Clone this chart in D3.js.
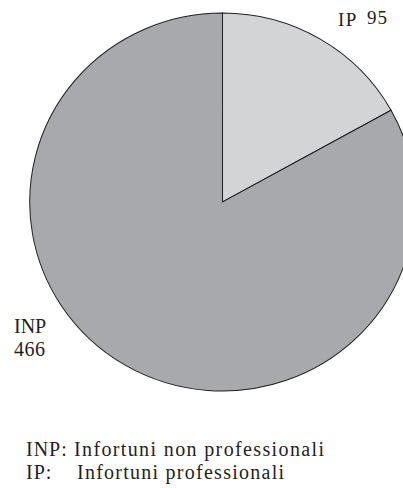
<!DOCTYPE html>
<html>
<head>
<meta charset="utf-8">
<script src="https://cdn.jsdelivr.net/npm/d3@7"></script>
<style>
  body { margin: 0; background: #fff; }
</style>
</head>
<body>
<div id="chart"></div>
<script>
const w = 403;
const h = 488;

const categories = ["IP", "INP"];
const values = [95, 466];
const legendCodes = ["INP:", "IP:"];
const legendNames = ["Infortuni non professionali", "Infortuni professionali"];

const colors = ["#d3d4d6", "#a8a9ac"];
const font = "'Liberation Serif', 'Times New Roman', 'DejaVu Serif', serif";

const cx = 222.5, cy = 202, r = 189;

const svg = d3.select("#chart").append("svg").attr("width", w).attr("height", h);

const pie = d3.pie().sort(null).value(d => d.value);
const arc = d3.arc().innerRadius(0).outerRadius(r);

const slices = pie(categories.map((c, i) => ({ name: c, value: values[i] })));

svg.append("g")
    .attr("transform", `translate(${cx},${cy}) scale(1.02,1)`)
    .selectAll("path")
    .data(slices)
    .enter()
    .append("path")
    .attr("d", arc)
    .style("fill", (d, i) => colors[i])
    .style("stroke", "#231f20")
    .style("stroke-width", 1);

// slice labels
const ipLabel = svg.append("text").attr("x", 338).attr("y", 26)
    .style("font-family", font).style("font-size", "19px").style("fill", "#231f20");
ipLabel.append("tspan").text(categories[0]).attr("letter-spacing", "1.5px");
ipLabel.append("tspan").attr("x", 367).attr("dy", -2).text(values[0]).attr("letter-spacing", "1px");

const inpLabel = svg.append("text").attr("x", 14).attr("y", 333)
    .style("font-family", font).style("font-size", "20px").style("fill", "#231f20");
inpLabel.append("tspan").text(categories[1]);
inpLabel.append("tspan").attr("x", 14).attr("dy", 23).text(values[1]).attr("letter-spacing", "0.5px");

// legend
const legend = svg.append("g").selectAll("g")
    .data(legendCodes)
    .enter()
    .append("g")
    .attr("transform", (d, i) => `translate(26, ${456 + i * 23})`);

legend.append("text")
    .style("font-family", font)
    .style("font-size", "20px")
    .style("fill", "#231f20")
    .attr("letter-spacing", "1px")
    .text(d => d);

const nameX = [48, 51];
const nameLen = [250, 207];
legend.append("text")
    .attr("x", (d, i) => nameX[i])
    .style("font-family", font)
    .style("font-size", "20px")
    .style("fill", "#231f20")
    .attr("textLength", (d, i) => nameLen[i])
    .attr("lengthAdjust", "spacing")
    .text((d, i) => legendNames[i]);
</script>
</body>
</html>
